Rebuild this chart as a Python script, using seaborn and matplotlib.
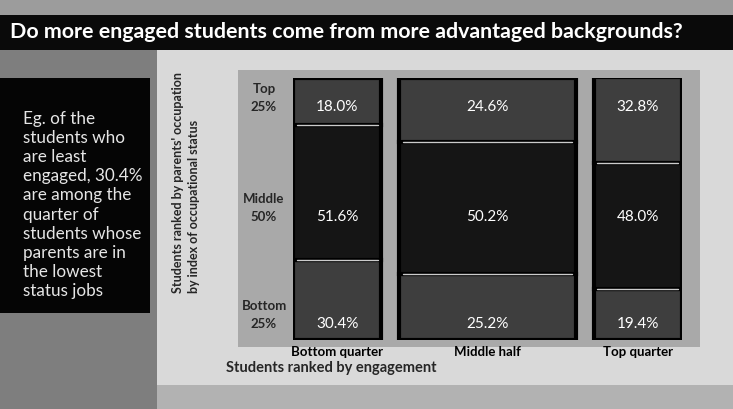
import matplotlib
matplotlib.use("Agg")
import matplotlib.pyplot as plt
from matplotlib.patches import Rectangle
import seaborn as sns

# Datos del mosaico (porcentajes por columna de compromiso)
engagement = ["Bottom quarter", "Middle half", "Top quarter"]
engagement_share = [25, 50, 25]
status_names = ["Bottom", "Middle", "Top"]
status_share = ["25%", "50%", "25%"]
bottom_pct = [30.4, 25.2, 19.4]
middle_pct = [51.6, 50.2, 48.0]
top_pct = [18.0, 24.6, 32.8]

title = "Do more engaged students come from more advantaged backgrounds?"
note = ("Eg. of the\nstudents who\nare least\nengaged, 30.4%\nare among the\n"
        "quarter of\nstudents whose\nparents are in\nthe lowest\nstatus jobs")

sns.set_theme(style="white")
plt.rcParams["font.family"] = ["Lato", "DejaVu Sans"]

W, H = 733, 409
fig = plt.figure(figsize=(W / 100, H / 100), dpi=100, facecolor="#d9d9d9")


def fx(px):
    return px / W


def fy(py):
    return 1 - py / H


def frect(x0, y0, x1, y1, color):
    fig.add_artist(Rectangle((fx(x0), fy(y1)), fx(x1) - fx(x0), fy(y0) - fy(y1),
                             transform=fig.transFigure, color=color, zorder=0, lw=0))


# Fondos (imitando el escaneo)
frect(0, 0, W, 15, "#9c9c9c")
frect(0, 15, W, 50, "#0a0a0a")
frect(0, 50, 157, H, "#7e7e7e")
frect(157, 385, W, H, "#b2b2b2")
frect(238, 70, 700, 347, "#a9a9a9")
frect(0, 78, 150, 313, "#050505")

fig.text(fx(10), fy(32), title, color="white", fontsize=15.4, fontweight="bold",
         ha="left", va="center")
fig.text(fx(23), fy(111), note, color="#e6e6e6", fontsize=12.3, ha="left", va="top",
         linespacing=1.24)

# Ejes del mosaico
ax = fig.add_axes([fx(293), fy(340), fx(682) - fx(293), fy(78) - fy(340)])
ax.set_facecolor("none")
gap = 0.05
ax.set_xlim(0, 1 + 2 * gap)
ax.set_ylim(0, 1)
ax.axis("off")

outer = "#3e3e3e"
inner = "#151515"
label_y = [0.06, 0.47, 0.89]

left = 0
for i, share in enumerate(engagement_share):
    w = share / 100
    b, m, t = bottom_pct[i] / 100, middle_pct[i] / 100, top_pct[i] / 100
    ax.bar(left, b, width=w, bottom=0, align="edge", color=outer, edgecolor="black", linewidth=3)
    ax.bar(left, m, width=w, bottom=b, align="edge", color=inner, edgecolor="black", linewidth=3)
    ax.bar(left, t, width=w, bottom=b + m, align="edge", color=outer, edgecolor="black", linewidth=3)
    for yb in (b, b + m):
        ax.plot([left + 0.01, left + w - 0.01], [yb, yb], color="white", lw=1, alpha=0.8)
    for val, yl in zip((bottom_pct[i], middle_pct[i], top_pct[i]), label_y):
        ax.text(left + w / 2, yl, f"{val:.1f}%", color="white", fontsize=11,
                ha="center", va="center")
    ax.text(left + w / 2, -0.045, engagement[i], color="black", fontsize=9.5,
            fontweight="bold", ha="center", va="center", clip_on=False)
    left += w + gap

# Etiquetas de filas
for name, share, yl in zip(status_names, status_share, label_y):
    ax.text(-0.082, yl, share, fontsize=9.5, fontweight="bold", ha="center", va="center", clip_on=False)
    ax.text(-0.082, yl + 0.068, name, fontsize=9.5, fontweight="bold", ha="center", va="center", clip_on=False)

fig.text(fx(331), fy(368), "Students ranked by engagement", fontsize=10.5, fontweight="bold",
         ha="center", va="center")
fig.text(fx(186), fy(293), "Students ranked by parents' occupation\nby index of occupational status",
         fontsize=9, fontweight="bold", rotation=90, ha="center", va="bottom",
         multialignment="left", linespacing=1.4)

fig.savefig("out.png", dpi=100, facecolor=fig.get_facecolor())
